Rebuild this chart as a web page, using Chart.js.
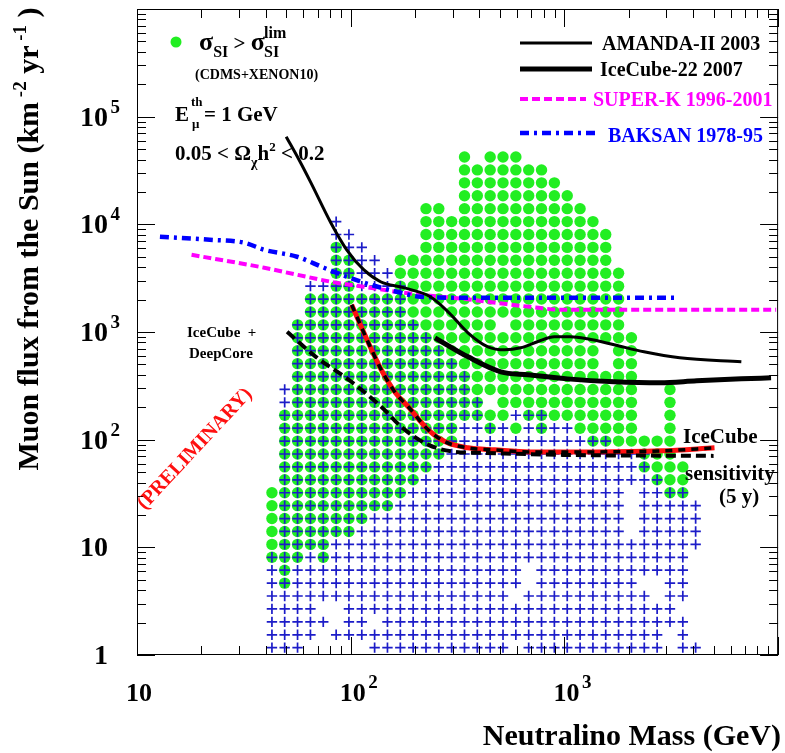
<!DOCTYPE html>
<html>
<head>
<meta charset="utf-8">
<script src="https://cdn.jsdelivr.net/npm/chart.js@4.4.0/dist/chart.umd.min.js"></script>
<style>
html,body{margin:0;padding:0;background:#fff;}
#wrap{width:785px;height:753px;}
</style>
</head>
<body>
<div id="wrap"><canvas id="myChart" width="785" height="753"></canvas></div>
<script>
// scan grid: columns are neutralino masses (GeV), rows are muon fluxes (km^-2 yr^-1)
const massGrid=[42.8,49.1,56.4,64.8,74.4,85.5,98.1,112.7,129.4,148.6,170.7,196,225.1,258.4,296.8,340.8,391.3,449.4,516.1,592.7,680.7,781.6,897.6,1031,1184,1360,1561,1793,2059,2365,2716,3119,3582,4113];
const fluxGrid=[1.17,1.54,2.03,2.68,3.53,4.65,6.13,8.08,10.65,14.04,18.5,24.38,32.14,42.37,55.84,73.6,97,127.8,168.5,222.1,292.7,385.8,508.6,670.3,883.6,1165,1535,2023,2667,3515,4633,6107,8046,10605,13980,18430,24290,32020,42200];

// filled rows per mass column (row index ranges), green = sigma_SI above CDMS+XENON10
const greenRows=[[[7,12]],[[5,18]],[[7,25]],[[8,27]],[[7,27]],[[9,31]],[[9,30]],[[10,27]],[[11,27]],[[11,27]],
 [[12,30]],[[13,30]],[[14,34]],[[15,34]],[[16,33]],[[18,38]],[[18,37]],[[17,18],[20,38]],[[18,24],[26,38]],[[17,17],[19,38]],
 [[18,37]],[[17,37]],[[18,36]],[[18,35]],[[17,34]],[[16,33]],[[16,21],[24,32]],[[16,29]],[[16,24]],[[14,16]],
 [[13,16]],[[12,20]],[[12,14]],[]];
// blue crosses = all models
const crossRows=[[[0,7]],[[0,20]],[[0,25]],[[1,28]],[[2,2],[4,28]],[[1,1],[4,33]],[[1,32]],[[1,31]],[[0,1],[3,30]],[[0,29]],
 [[0,28]],[[0,25]],[[0,24]],[[0,23]],[[0,22]],[[0,21]],[[0,19]],[[0,17]],[[0,17]],[[1,3],[5,16],[18,18]],
 [[0,4],[7,18]],[[0,18]],[[0,17]],[[0,17]],[[0,16]],[[0,16]],[[0,16]],[[0,15]],[[0,8],[13,15]],[[0,4],[6,15]],
 [[0,3],[6,13]],[[2,12]],[[0,2],[4,12]],[[0,0],[8,11]]];

// limits and sensitivities
const amandaMass=[49.9,57.3,65.1,80.7,95.8,115,138,176.5,235.7,288.7,353.7,438.6,526,624,748,898,1066,1279,1709,2357,3466,6730];
const amandaFlux=[65200,39800,24400,10350,5800,3790,2930,2580,2125,1508,984,728,683,713,811,902,902,864,761,655,576,529];
const ic22Mass=[248,354,504,673,1033,1709,2800,4160,6730,9270];
const ic22Flux=[883,588,427,400,367,345,337,352,367,375];
const superkMass=[18,39.4,56.1,80.7,115,164,236,335,478,687,979,9790];
const superkFlux=[5215,3952,3401,2930,2630,2365,2170,2035,1868,1714,1607,1607];
const baksanMass=[12.8,21.9,31.8,39.4,56.1,74.9,95.8,124,164,212,335,3430];
const baksanFlux=[7670,7195,6745,5800,5000,3952,3260,2750,2365,2125,2080,2080];
const icSensMass=[101,121,139,162,186,231,277,354,472,687,1393,2857,5040];
const icSensFlux=[1790,794,446,272,202,123,95.4,84,80.4,77,77,78.7,84];
const deepCoreMass=[50.4,68.7,97.9,139,173,231,308,406,979,4990];
const deepCoreFlux=[1004,588,360,202,131,89.5,77.1,75.4,72.2,70.7];

const xTickValues=[10,100,1000];
const xTickLabels=['10','10^2','10^3'];
const yTickValues=[1,10,100,1000,10000,100000];
const yTickLabels=['1','10','10^2','10^3','10^4','10^5'];

const SERIF='"Liberation Serif","DejaVu Serif",serif';
const fnt=px=>`bold ${px}px ${SERIF}`;
const GREEN='#22ee22', CROSS='rgb(28,28,200)', MAGENTA='#ff00ff', BLUE='#0000ff', RED='#ff1010';

function expand(rows){
    const pts=[];
    rows.forEach((ranges,c)=>ranges.forEach(([lo,hi])=>{
        for(let r=lo;r<=hi;r++) pts.push({x:massGrid[c],y:fluxGrid[r]});
    }));
    return pts;
}
const pairs=(m,fl)=>m.map((v,i)=>({x:v,y:fl[i]}));

function curve(m,fl,color,width,dash,order){
    return {data:pairs(m,fl),showLine:true,pointRadius:0,borderColor:color,borderWidth:width,
        borderDash:dash,borderJoinStyle:'round',borderCapStyle:'butt',cubicInterpolationMode:'monotone',order:order};
}

// draw a run of text pieces [text,size,dy,color]
function runs(ctx,x,y,parts){
    ctx.textAlign='left';ctx.textBaseline='alphabetic';
    for(const [t,s,dy,col] of parts){
        ctx.font=fnt(s);
        if(col) ctx.fillStyle=col;
        ctx.fillText(t,x,y+(dy||0));
        x+=ctx.measureText(t).width;
    }
    return x;
}
function runsWidth(ctx,parts){
    let w=0;
    for(const [t,s] of parts){ctx.font=fnt(s);w+=ctx.measureText(t).width;}
    return w;
}
function labelParts(lbl,size){
    const [b,e]=lbl.split('^');
    return e?[[b,size],[' ',10],[e,19,-13]]:[[b,size]];
}

const rootStyle={
    id:'rootStyle',
    afterDraw(chart){
        const {ctx,chartArea:a,scales:{x,y}}=chart;
        ctx.save();
        ctx.strokeStyle='#000';ctx.lineWidth=1;
        ctx.strokeRect(a.left+0.5,a.top+0.5,a.right-a.left-1,a.bottom-a.top-1);
        ctx.beginPath();
        for(let d=10;d<=10000;d*=10) for(let k=1;k<10;k++){
            const v=d*k; if(v>10000) break;
            const px=Math.round(x.getPixelForValue(v))+0.5, len=k==1?18:9;
            ctx.moveTo(px,a.bottom);ctx.lineTo(px,a.bottom-len);
            ctx.moveTo(px,a.top);ctx.lineTo(px,a.top+len);
        }
        for(let d=1;d<=1e6;d*=10) for(let k=1;k<10;k++){
            const v=d*k; if(v>1e6) break;
            const py=Math.round(y.getPixelForValue(v))+0.5, len=k==1?18:9;
            ctx.moveTo(a.left,py);ctx.lineTo(a.left+len,py);
            ctx.moveTo(a.right,py);ctx.lineTo(a.right-len,py);
        }
        ctx.stroke();

        ctx.fillStyle='#000';
        xTickValues.forEach((v,i)=>{
            const parts=labelParts(xTickLabels[i],26);
            ctx.font=fnt(26);
            const w0=ctx.measureText(parts[0][0]).width;
            runs(ctx,x.getPixelForValue(v)+2-w0/2,701,parts);
        });
        yTickValues.forEach((v,i)=>{
            const parts=labelParts(yTickLabels[i],28);
            ctx.font=fnt(28);
            const w0=ctx.measureText(parts[0][0]).width;
            runs(ctx,108-w0,y.getPixelForValue(v)+9,parts);
        });

        // axis titles
        ctx.font=fnt(30);ctx.textAlign='right';
        ctx.fillText('Neutralino Mass (GeV)',781,745);
        const yt=[['Muon flux from the Sun (km',30],[' -2',19,-12],[' yr',30],[' -1',19,-12],[' )',30]];
        ctx.save();
        ctx.translate(38,239);ctx.rotate(-Math.PI/2);
        runs(ctx,-runsWidth(ctx,yt)/2,0,yt);
        ctx.restore();

        // model legend
        ctx.fillStyle=GREEN;
        ctx.beginPath();ctx.arc(176,42,5.5,0,2*Math.PI);ctx.fill();
        ctx.fillStyle='#000';
        runs(ctx,199,50,[['σ',26],['SI',16,7],[' > ',21],['σ',26]]);
        ctx.font=fnt(16);ctx.fillText('lim',264,38);ctx.fillText('SI',264,57);
        runs(ctx,195,79,[['(CDMS+XENON10)',14]]);
        runs(ctx,175,121,[['E',21]]);
        ctx.font=fnt(13);ctx.fillText('th',191,106);ctx.fillText('μ',192,128);
        runs(ctx,204,121,[['= 1 GeV',21]]);
        runs(ctx,175,160,[['0.05 < Ω',21],['χ',14,7],['h',21],['2',13,-9],[' < 0.2',21]]);

        // experiments legend
        const leg=[[43,'AMANDA-II 2003','#000',3,[],602,50,592],
                   [69,'IceCube-22 2007','#000',5,[],600,76,592],
                   [99,'SUPER-K 1996-2001',MAGENTA,4,[8,4],593,106,586],
                   [133,'BAKSAN 1978-95',BLUE,4.5,[9,5,3,5],608,142,598]];
        for(const [ly,txt,col,w,dash,tx,ty,x1] of leg){
            ctx.strokeStyle=col;ctx.lineWidth=w;ctx.setLineDash(dash);
            ctx.beginPath();ctx.moveTo(520,ly);ctx.lineTo(x1,ly);ctx.stroke();
            ctx.setLineDash([]);
            runs(ctx,tx,ty,[[txt,20,0,col]]);
        }
        ctx.fillStyle='#000';
        runs(ctx,187,337,[['IceCube  +',15]]);
        runs(ctx,189,358,[['DeepCore',15]]);
        runs(ctx,683,443,[['IceCube',21]]);
        runs(ctx,685,480,[['sensitivity',21]]);
        runs(ctx,719,503,[['(5 y)',21]]);

        ctx.save();
        ctx.translate(195,449);ctx.rotate(-47*Math.PI/180);
        ctx.fillStyle=RED;ctx.font=fnt(20);ctx.textAlign='center';ctx.textBaseline='middle';
        ctx.fillText('(PRELIMINARY)',0,0);
        ctx.restore();
        ctx.restore();
    }
};

const ctx=document.getElementById('myChart');
const myChart=new Chart(ctx,{
    type:'scatter',
    data:{datasets:[
        {data:expand(greenRows),pointStyle:'circle',pointRadius:5.7,pointBackgroundColor:GREEN,pointBorderWidth:0,order:30},
        {data:expand(crossRows),pointStyle:'cross',pointRadius:5.2,pointBorderColor:CROSS,pointBorderWidth:1.7,order:20},
        curve(superkMass,superkFlux,MAGENTA,4,[8,4],9),
        curve(baksanMass,baksanFlux,BLUE,4.5,[9,5,3,5],8),
        curve(amandaMass,amandaFlux,'#000',3,[],5),
        curve(ic22Mass,ic22Flux,'#000',5,[],4),
        curve(icSensMass,icSensFlux,RED,5,[],3),
        curve(icSensMass,icSensFlux,'#000',3.5,[7,6],2),
        curve(deepCoreMass,deepCoreFlux,'#000',4,[10,5],1)
    ]},
    options:{
        responsive:false,animation:false,events:[],devicePixelRatio:1,
        layout:{padding:{top:9,right:4,left:0,bottom:0}},
        plugins:{legend:{display:false},tooltip:{enabled:false}},
        scales:{
            x:{type:'logarithmic',min:10,max:10000,grid:{display:false},border:{display:false},ticks:{display:false},
               afterFit:s=>{s.height=98;}},
            y:{type:'logarithmic',min:1,max:1e6,grid:{display:false},border:{display:false},ticks:{display:false},
               afterFit:s=>{s.width=137;}}
        }
    },
    plugins:[rootStyle]
});
</script>
</body>
</html>
